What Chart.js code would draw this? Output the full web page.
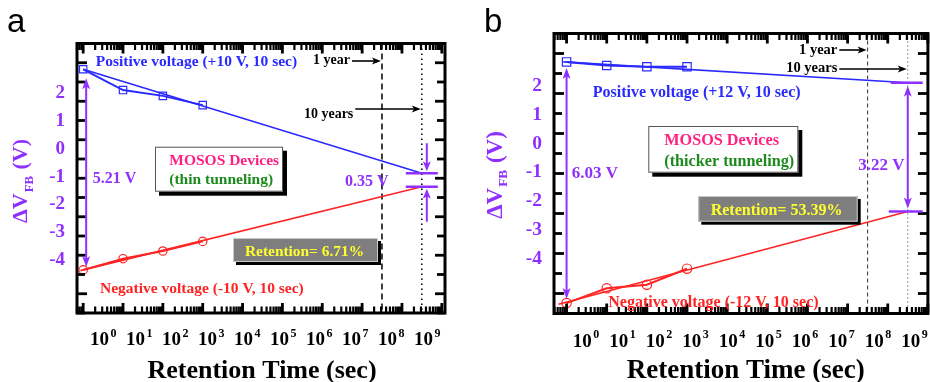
<!DOCTYPE html>
<html><head><meta charset="utf-8">
<script src="https://cdn.jsdelivr.net/npm/chart.js@4.4.1/dist/chart.umd.min.js"></script>
<style>
html,body{margin:0;padding:0;background:#fff;overflow:hidden;width:930px;height:382px;position:relative;}
#ca{position:absolute;left:0;top:0;}
#cb{position:absolute;left:465px;top:0;}
</style></head><body>
<canvas id="ca" width="465" height="382"></canvas>
<canvas id="cb" width="470" height="382"></canvas>
<script>
// ---------------- data ----------------
const times = [1, 10, 100, 1000];                 // retention time (s)
const posA = [1.83, 1.29, 1.14, 0.90];            // +10 V programmed, ΔVFB (V)
const negA = [-3.38, -3.09, -2.89, -2.64];        // -10 V erased
const posFitTimeA = [1, 3.15e8];
const posFitA = [1.83, -0.87];
const negFitTimeA = [0.85, 3.15e8];
const negFitA = [-3.40, -1.22];
const posB = [1.79, 1.70, 1.67, 1.67];            // +12 V
const negB = [-4.24, -3.87, -3.78, -3.38];        // -12 V
const posFitTimeB = [0.83, 3.15e8];
const posFitB = [1.79, 1.27];
const negFitTimeB = [0.63, 3.15e8];
const negFitB = [-4.27, -1.95];
const yTickLabels = [2, 1, 0, -1, -2, -3, -4];
const yFrameTicks = [-4.5, -4, -3.5, -3, -2.5, -2, -1.5, -1, -0.5, 0, 0.5, 1, 1.5, 2, 2.5];
const xTickExponents = [0, 1, 2, 3, 4, 5, 6, 7, 8, 9];
const ONE_YEAR = 3.15e7, TEN_YEARS = 3.15e8;

// ---------------- styles ----------------
const SERIF = '"Liberation Serif","Times New Roman",Times,serif';
const SANS = '"Liberation Sans",Arial,Helvetica,sans-serif';
const BLUE = '#2a2aff', RED = '#ff2424', PURPLE = '#9030ff', PINK = '#ff2080',
      GREEN = '#1d8a1d', YELLOW = '#ffff30', GRAY = '#7e7e7e';
const bf = s => `bold ${s}px ${SERIF}`;

function txt(ctx, s, x, y, size, color, align) {
  ctx.font = bf(size); ctx.fillStyle = color; ctx.textAlign = align || 'left';
  ctx.textBaseline = 'alphabetic'; ctx.fillText(s, x, y);
}
function head(ctx, x, y, ang, len, half) {
  const c = Math.cos(ang), s = Math.sin(ang);
  ctx.beginPath(); ctx.moveTo(x, y);
  ctx.lineTo(x - len * c + half * s, y - len * s - half * c);
  ctx.lineTo(x - len * 0.75 * c, y - len * 0.75 * s);
  ctx.lineTo(x - len * c - half * s, y - len * s + half * c);
  ctx.closePath(); ctx.fill();
}
function arrow(ctx, x1, y1, x2, y2, color, lw, len, half, both) {
  const ang = Math.atan2(y2 - y1, x2 - x1), c = Math.cos(ang), s = Math.sin(ang);
  ctx.strokeStyle = color; ctx.fillStyle = color; ctx.lineWidth = lw; ctx.setLineDash([]);
  ctx.beginPath();
  ctx.moveTo(both ? x1 + len * 0.7 * c : x1, both ? y1 + len * 0.7 * s : y1);
  ctx.lineTo(x2 - len * 0.7 * c, y2 - len * 0.7 * s); ctx.stroke();
  head(ctx, x2, y2, ang, len, half);
  if (both) head(ctx, x1, y1, ang + Math.PI, len, half);
}
function hbar(ctx, x1, x2, y, color, lw) {
  ctx.strokeStyle = color; ctx.lineWidth = lw; ctx.setLineDash([]);
  ctx.beginPath(); ctx.moveTo(x1, y); ctx.lineTo(x2, y); ctx.stroke();
}
function shadowBox(ctx, b, fill, stroke) {
  ctx.fillStyle = '#000'; ctx.fillRect(b.x + b.off, b.y + b.off, b.w, b.h);
  ctx.fillStyle = fill; ctx.fillRect(b.x, b.y, b.w, b.h);
  ctx.strokeStyle = stroke; ctx.lineWidth = 1; ctx.setLineDash([]);
  ctx.strokeRect(b.x + 0.5, b.y + 0.5, b.w - 1, b.h - 1);
}
function frameTicks(chart) {
  const ctx = chart.ctx, xs = chart.scales.x, ys = chart.scales.y;
  const ca = chart.chartArea;
  const left = ca.left, right = ca.right, top = ca.top, bottom = ca.bottom;
  ctx.save();
  ctx.fillStyle = '#000';
  yFrameTicks.forEach(v => {
    const py = ys.getPixelForValue(v);
    const len = Number.isInteger(v) ? 9 : 7;
    ctx.fillRect(left, py - 1.4, len + 1, 2.8);
    ctx.fillRect(right - len - 1, py - 1.4, len + 1, 2.8);
  });
  const lo = Math.log10(xs.min), hi = Math.log10(xs.max);
  for (let e = Math.floor(lo); e <= Math.ceil(hi); e++) {
    for (let m = 1; m <= 9; m++) {
      const val = m * Math.pow(10, e);
      const lv = Math.log10(val);
      if (lv < lo || lv > hi) continue;
      const px = xs.getPixelForValue(val);
      const len = m === 1 ? 9 : 5.5, w = m === 1 ? 2.8 : 2.2;
      ctx.fillRect(px - w / 2, bottom - len - 1, w, len + 1);
      ctx.fillRect(px - w / 2, top, w, len + 1);
    }
  }
  ctx.strokeStyle = '#000'; ctx.lineWidth = 3; ctx.setLineDash([]);
  ctx.strokeRect(left, top, right - left, bottom - top);
  ctx.restore();
}

function decor(P) {
  return {
    id: 'decor' + P.name,
    beforeDatasetsDraw(chart) {
      const ctx = chart.ctx, xs = chart.scales.x, { top, bottom } = chart.chartArea;
      ctx.save();
      [[ONE_YEAR, P.dash1], [TEN_YEARS, P.dash2]].forEach(([t, d]) => {
        const px = xs.getPixelForValue(t);
        ctx.strokeStyle = P.vColor; ctx.lineWidth = P.vLW; ctx.setLineDash(d);
        ctx.beginPath(); ctx.moveTo(px, top); ctx.lineTo(px, bottom); ctx.stroke();
      });
      ctx.restore();
    },
    afterDatasetsDraw(chart) { frameTicks(chart); },
    afterDraw(chart) {
      const ctx = chart.ctx, xs = chart.scales.x, ys = chart.scales.y, xl = chart.scales.xl;
      ctx.save(); ctx.setLineDash([]);
      // x tick labels 10^n
      xTickExponents.forEach(k => {
        const x0 = xl.getPixelForValue(k);
        txt(ctx, '10', x0, P.xlBase, P.xlFont, '#000');
        const w = ctx.measureText('10').width;
        txt(ctx, String(k), x0 + w + 1.5, P.xlBase - P.supRaise, P.supFont, '#000');
      });
      // x title
      txt(ctx, 'Retention Time (sec)', P.xtX, P.xtY, P.xtFont, '#000', 'center');
      // y title, rotated, with subscript
      ctx.save(); ctx.translate(P.ytX, P.ytY); ctx.rotate(-Math.PI / 2);
      ctx.font = bf(P.ytFont); const w1 = ctx.measureText('\u0394V').width;
      const w3 = ctx.measureText(' (V)').width;
      ctx.font = bf(P.ytFont * 0.58); const w2 = ctx.measureText('FB').width;
      let sx = -(w1 + w2 + w3 + 2) / 2;
      txt(ctx, '\u0394V', sx, 0, P.ytFont, PURPLE); sx += w1 + 1;
      txt(ctx, 'FB', sx, P.ytFont * 0.25, P.ytFont * 0.58, PURPLE); sx += w2 + 1;
      txt(ctx, ' (V)', sx, 0, P.ytFont, PURPLE);
      ctx.restore();
      // panel letter
      ctx.font = `${P.letterFont}px ${SANS}`; ctx.fillStyle = '#000'; ctx.textAlign = 'left';
      ctx.fillText(P.letter, P.letterX, P.letterY);

      const A = P.ann;
      txt(ctx, A.posText, A.posX, A.posY, A.serFont, BLUE);
      txt(ctx, A.negText, A.negX, A.negY, A.serFont, RED);
      txt(ctx, '1 year', A.yrRight, A.yrY, A.yrFont, '#000', 'right');
      arrow(ctx, A.yrRight + 2, A.yrArrowY, xs.getPixelForValue(ONE_YEAR) - 1, A.yrArrowY, '#000', 1.6, 9, 3.5, false);
      txt(ctx, '10 years', A.tyRight, A.tyY, A.yrFont, '#000', 'right');
      arrow(ctx, A.tyRight + 2, A.tyArrowY, xs.getPixelForValue(TEN_YEARS) - 1, A.tyArrowY, '#000', 1.6, 9, 3.5, false);
      shadowBox(ctx, A.mBox, '#fff', '#555');
      txt(ctx, 'MOSOS Devices', A.mX, A.m1Y, A.mFont, PINK);
      txt(ctx, A.mText2, A.mX, A.m2Y, A.mFont, GREEN);
      shadowBox(ctx, A.rBox, GRAY, '#c8c8c8');
      txt(ctx, A.rText, A.rX, A.rY, A.rFont, YELLOW);
      txt(ctx, A.startText, A.startX, A.startY, A.annFont, PURPLE);
      txt(ctx, A.endText, A.endX, A.endY, A.annFont, PURPLE);
      const x0 = xs.getPixelForValue(times[0]) + A.startDx;
      arrow(ctx, x0, ys.getPixelForValue(P.pos[0]) + A.startTopGap, x0, ys.getPixelForValue(P.neg[0]) - A.startBotGap, PURPLE, 2, 11, 4, true);
      const xt = xs.getPixelForValue(TEN_YEARS);
      const yP = ys.getPixelForValue(P.posFit[1]), yN = ys.getPixelForValue(P.negFit[1]);
      hbar(ctx, xt + A.barL, xt + A.barR, yP, PURPLE, 2.5);
      hbar(ctx, xt + A.barL2, xt + A.barR, yN, PURPLE, 2.5);
      if (A.endMode === 'outer') {
        const ax = xt + 5;
        arrow(ctx, ax, yP - 30, ax, yP - 2, PURPLE, 2, 10, 4, false);
        arrow(ctx, ax, yN + 35, ax, yN + 2, PURPLE, 2, 10, 4, false);
      } else {
        arrow(ctx, xt, yP + 3, xt, yN - 3, PURPLE, 2, 11, 4, true);
      }
      ctx.restore();
    }
  };
}

function makeChart(id, P) {
  const pts = (xs, ys) => xs.map((x, i) => ({ x: x, y: ys[i] }));
  return new Chart(document.getElementById(id), {
    type: 'line',
    data: { datasets: [
      { data: pts(P.posFitTime, P.posFit), borderColor: BLUE, borderWidth: 1.6, pointRadius: 0, tension: 0 },
      { data: pts(P.negFitTime, P.negFit), borderColor: RED, borderWidth: 1.6, pointRadius: 0, tension: 0 },
      { data: pts(times, P.pos), borderColor: BLUE, borderWidth: 2, pointStyle: 'rect', pointRadius: P.sqR,
        pointBorderWidth: 1.2, pointBorderColor: BLUE, pointBackgroundColor: 'rgba(0,0,0,0)', tension: 0 },
      { data: pts(times, P.neg), borderColor: RED, borderWidth: 2, pointStyle: 'circle', pointRadius: P.ciR,
        pointBorderWidth: 1.2, pointBorderColor: RED, pointBackgroundColor: 'rgba(0,0,0,0)', tension: 0 }
    ]},
    options: {
      responsive: false, animation: false, devicePixelRatio: 1,
      layout: { padding: P.pad },
      plugins: { legend: { display: false }, tooltip: { enabled: false }, title: { display: false } },
      scales: {
        x: { type: 'logarithmic', min: Math.pow(10, P.xMinExp), max: Math.pow(10, P.xMaxExp), display: false },
        xl: { type: 'linear', axis: 'x', position: 'bottom', min: P.xlMin, max: P.xlMax, display: false },
        y: { type: 'linear', min: -4.5, max: 2.5, display: false },
        yl: { type: 'linear', axis: 'y', position: 'left', min: P.ylMin, max: P.ylMax, display: true,
          grid: { display: false, drawTicks: false }, border: { display: false },
          afterBuildTicks: s => { s.ticks = yTickLabels.map(v => ({ value: v })); },
          afterFit: s => { s.width = 60; },
          ticks: { color: PURPLE, font: { family: SERIF, size: P.ylFont, weight: 'bold' }, padding: 12,
                   autoSkip: false, callback: v => String(v) } }
      }
    },
    plugins: [decor(P)]
  });
}

const panelA = {
  name: 'A', pos: posA, neg: negA, posFitTime: posFitTimeA, posFit: posFitA, negFitTime: negFitTimeA, negFit: negFitA,
  pad: { left: 17, right: 20, top: 43.5, bottom: 69 },
  xMinExp: -0.143, xMaxExp: 9.08, xlMin: -0.361, xlMax: 9.861, ylMin: -5.906, ylMax: 3.788, ylFont: 19,
  sqR: 5.2, ciR: 4.2, vColor: '#000', vLW: 1.5, dash1: [6, 4], dash2: [1.5, 3.5],
  xlBase: 345, xlFont: 19, supFont: 12, supRaise: 8.5, xtX: 262, xtY: 378, xtFont: 26,
  ytX: 27, ytY: 181, ytFont: 22, letter: 'a', letterX: 7, letterY: 31.5, letterFont: 33,
  ann: {
    posText: 'Positive voltage (+10 V, 10 sec)', posX: 95.7, posY: 66,
    negText: 'Negative voltage (-10 V, 10 sec)', negX: 100, negY: 292.5, serFont: 15.5,
    yrRight: 350, yrY: 64, yrArrowY: 61, tyRight: 353.3, tyY: 117.5, tyArrowY: 109, yrFont: 14,
    mBox: { x: 155, y: 146.7, w: 128, h: 45, off: 4 }, mX: 169.3, m1Y: 165, m2Y: 184.3, mFont: 15.5, mText2: '(thin tunneling)',
    rBox: { x: 233, y: 238, w: 145, h: 24, off: 3 }, rX: 245, rY: 256, rFont: 15.4, rText: 'Retention= 6.71%',
    startText: '5.21 V', startX: 92.7, startY: 182.7, endText: '0.35 V', endX: 345, endY: 186, annFont: 16,
    startDx: 3, startTopGap: 9, startBotGap: 3, barL: -16, barL2: -16, barR: 16, endMode: 'outer'
  }
};
const panelB = {
  name: 'B', pos: posB, neg: negB, posFitTime: posFitTimeB, posFit: posFitB, negFitTime: negFitTimeB, negFit: negFitB,
  pad: { left: 29, right: 3, top: 33.5, bottom: 68.5 },
  xMinExp: -0.313, xMaxExp: 9.0, xlMin: -0.515, xlMax: 9.729, ylMin: -5.882, ylMax: 3.806, ylFont: 19.5,
  sqR: 5.9, ciR: 4.7, vColor: '#333', vLW: 1, dash1: [4, 3], dash2: [1, 3],
  xlBase: 346.5, xlFont: 19, supFont: 12, supRaise: 8.5, xtX: 280.8, xtY: 378, xtFont: 27,
  ytX: 36.5, ytY: 175, ytFont: 23, letter: 'b', letterX: 19, letterY: 31.5, letterFont: 33,
  ann: {
    posText: 'Positive voltage (+12 V, 10 sec)', posX: 127.7, posY: 97,
    negText: 'Negative voltage (-12 V, 10 sec)', negX: 143.3, negY: 306.7, serFont: 16,
    yrRight: 372.3, yrY: 54, yrArrowY: 50, tyRight: 372.3, tyY: 71.7, tyArrowY: 69, yrFont: 14.5,
    mBox: { x: 183.3, y: 126, w: 150, h: 46.7, off: 4 }, mX: 199.3, m1Y: 145, m2Y: 165.7, mFont: 16.2, mText2: '(thicker tunneling)',
    rBox: { x: 233.3, y: 196, w: 159.4, h: 25.7, off: 3 }, rX: 245.7, rY: 215, rFont: 16, rText: 'Retention= 53.39%',
    startText: '6.03 V', startX: 106.7, startY: 178.3, endText: '3.22 V', endX: 393.3, endY: 170, annFont: 17,
    startDx: 0, startTopGap: 6, startBotGap: 4, barL: -17, barL2: -19, barR: 15, endMode: 'inner'
  }
};
makeChart('ca', panelA);
makeChart('cb', panelB);
</script>
</body></html>
